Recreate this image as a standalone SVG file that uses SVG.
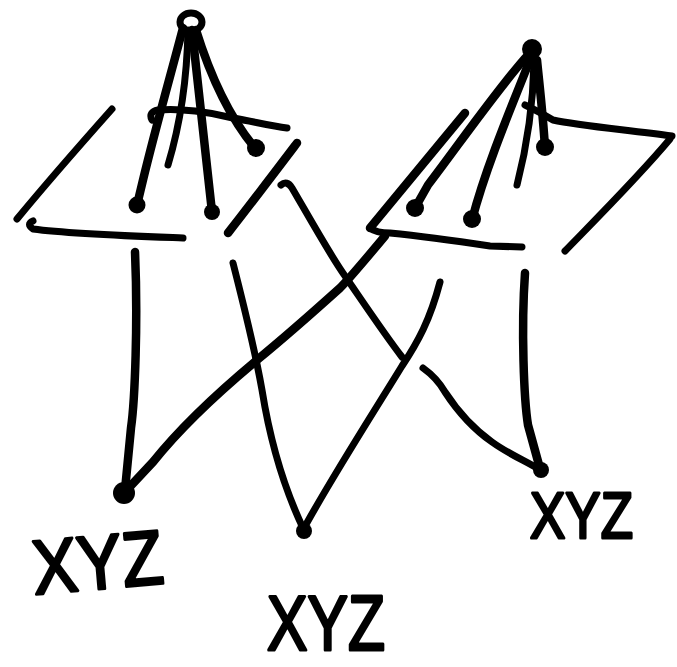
<svg xmlns="http://www.w3.org/2000/svg" width="677" height="667" viewBox="0 0 677 667">
<style>
.ln{fill:none;stroke:#000;stroke-width:7;stroke-linecap:round;stroke-linejoin:round}
.th{stroke-width:8.5}
.dot{fill:#000}
.lbl{font-family:"Liberation Sans",Arial,sans-serif;fill:#000;stroke:#000;stroke-width:3;stroke-linejoin:round}
</style>
<rect width="677" height="667" fill="#fff"/>
<g id="node-left-pyramid">
  <ellipse cx="191" cy="22" rx="11" ry="9" class="ln" stroke-width="6"/>
  <path class="ln th" d="M183,28 C172,70 155,130 143,180 L137,205"/>
  <path class="ln" d="M188,30 C187,80 180,125 168,165"/>
  <path class="ln th" d="M192,30 C197,80 204,140 212,212"/>
  <path class="ln th" d="M196,30 C210,75 230,118 255,148"/>
  <circle class="dot" cx="137" cy="205" r="8.5"/>
  <circle class="dot" cx="212" cy="212" r="8"/>
  <circle class="dot" cx="256" cy="148" r="9"/>
  <path class="ln" d="M112,109 C80,145 45,185 17,219"/>
  <path class="ln" d="M33,221 Q26,224 33,229 C70,234 130,236 183,238"/>
  <path class="ln" d="M152,120 Q148,112 158,110 C180,108 210,112 233,118 C255,122 272,126 287,128"/>
  <path class="ln th" d="M297,143 C275,172 250,205 228,233"/>
</g>
<g id="node-right-pyramid">
  <circle class="dot" cx="532" cy="49" r="10"/>
  <path class="ln th" d="M527,56 C495,92 455,150 428,185 L415,208"/>
  <path class="ln th" d="M530,60 C510,110 485,170 472,220"/>
  <path class="ln" d="M534,62 C533,110 526,150 517,185"/>
  <path class="ln th" d="M537,60 C540,90 543,115 545,148"/>
  <circle class="dot" cx="415" cy="208" r="9"/>
  <circle class="dot" cx="472" cy="219" r="9"/>
  <circle class="dot" cx="545" cy="147" r="9"/>
  <path class="ln th" d="M465,113 C430,155 400,192 370,228"/>
  <path class="ln" d="M370,228 Q376,233 390,233 C420,236 450,240 490,246 L522,247"/>
  <path class="ln" d="M525,105 Q540,112 553,120 C580,126 630,130 672,136"/>
  <path class="ln" d="M670,139 C640,175 600,215 565,251"/>
</g>
<g id="connectors">
  <path class="ln th" d="M135,252 C138,320 135,400 131,428 L125,490"/>
  <path class="ln" d="M233,263 C245,310 255,350 262,390 C270,440 285,490 303,528"/>
  <path class="ln th" d="M385,236 C365,260 350,278 340,288 C310,315 285,337 257,360 C215,395 180,428 153,462 L124,493"/>
  <path class="ln" d="M281,185 Q287,180 292,188 C305,210 330,255 345,276 C365,305 385,335 402,357"/>
  <path class="ln" d="M423,368 Q437,378 445,392 C460,415 475,430 492,442 C510,455 528,462 540,470"/>
  <path class="ln" d="M440,282 C430,320 418,342 402,366 C375,410 330,480 303,530"/>
  <path class="ln th" d="M525,273 C521,330 524,400 528,425 L539,465"/>
</g>
<g id="node-xyz-left">
  <circle class="dot" cx="124" cy="493" r="11"/>
  <text class="lbl" x="32" y="589" font-size="77" textLength="131" lengthAdjust="spacingAndGlyphs" transform="rotate(-5 97 560)">XYZ</text>
</g>
<g id="node-xyz-middle">
  <circle class="dot" cx="304" cy="531" r="8"/>
  <text class="lbl" x="267" y="650" font-size="77" textLength="118" lengthAdjust="spacingAndGlyphs">XYZ</text>
</g>
<g id="node-xyz-right">
  <circle class="dot" cx="541" cy="470" r="8"/>
  <text class="lbl" x="530" y="538" font-size="65" textLength="103" lengthAdjust="spacingAndGlyphs">XYZ</text>
</g>
</svg>
